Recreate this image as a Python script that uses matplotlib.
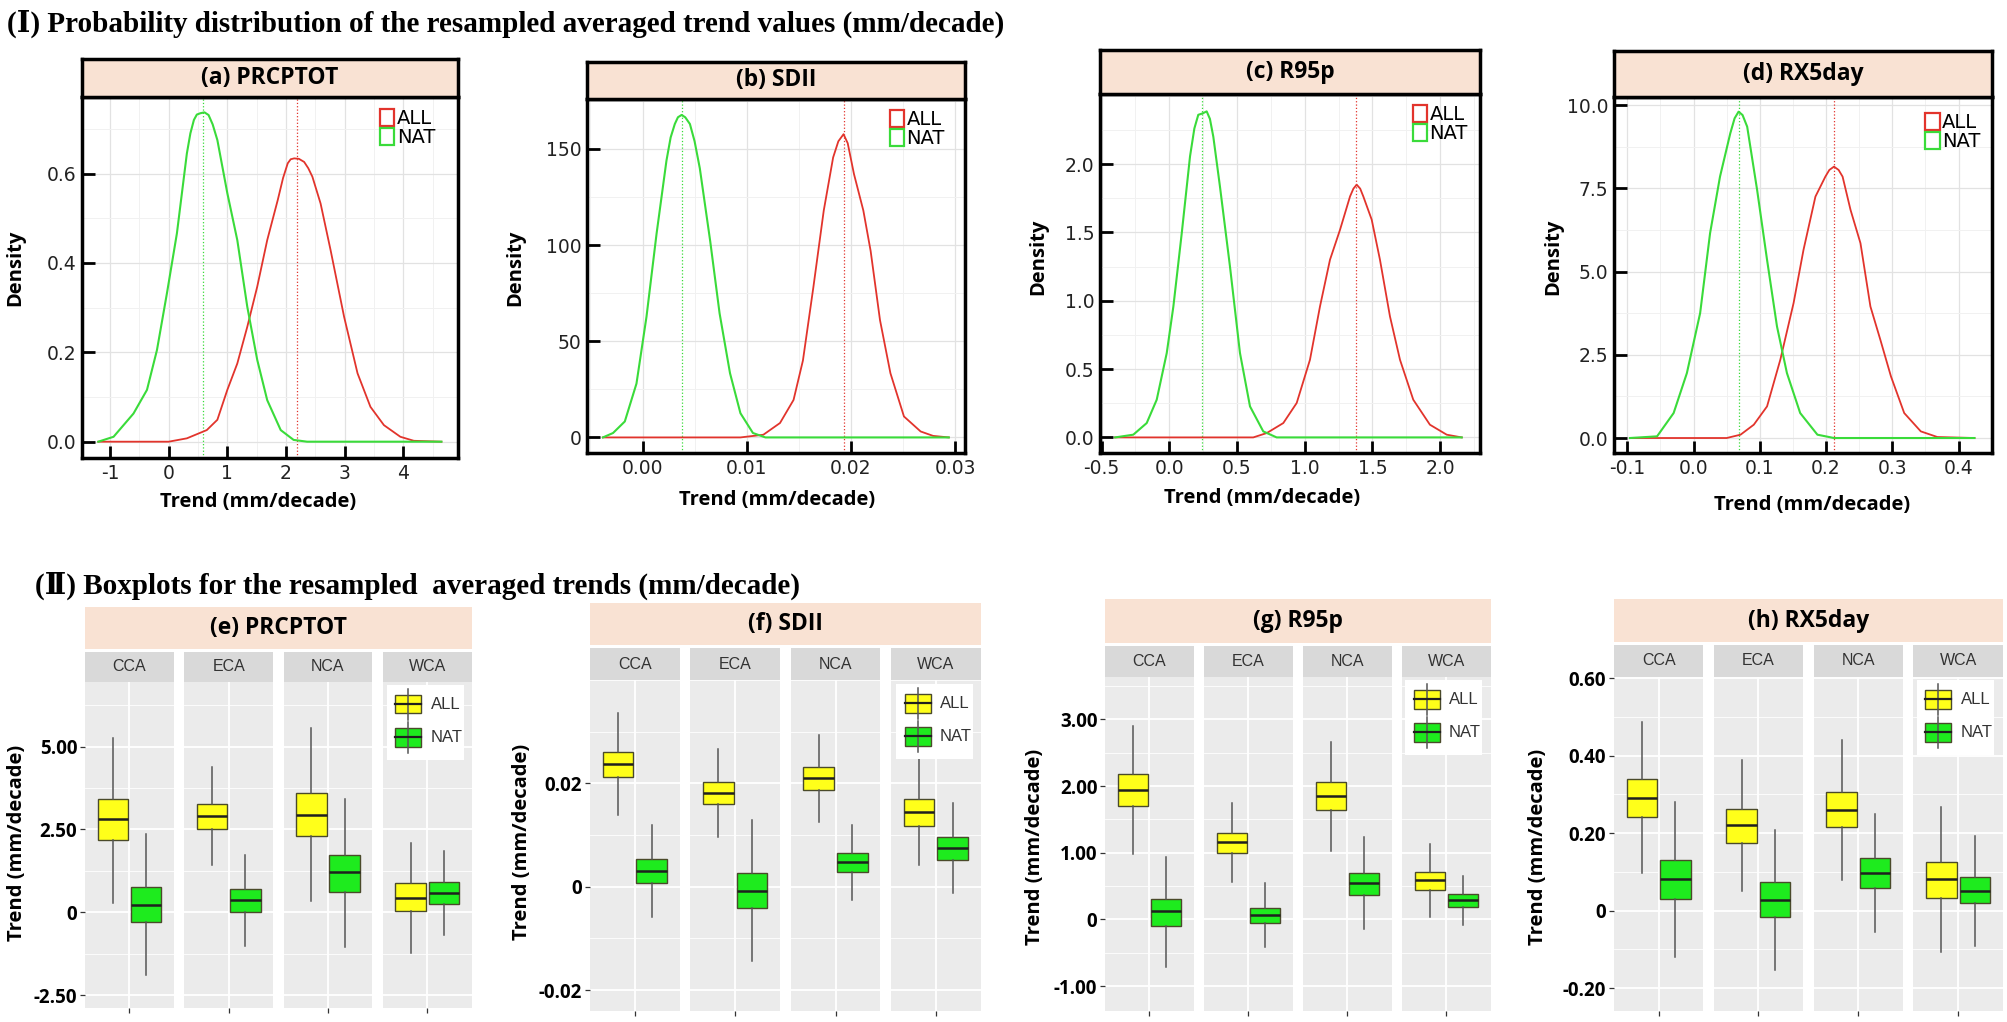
import numpy as np
import matplotlib.pyplot as plt
from matplotlib.patches import Patch, Rectangle
from matplotlib.ticker import AutoMinorLocator, MultipleLocator

# ---------------- data ----------------
# (I) density curves of resampled averaged trends
a_nat_x = [-1.2, -0.94, -0.60, -0.37, -0.20, -0.03, 0.14, 0.31, 0.37, 0.43, 0.48, 0.54, 0.61,
           0.68, 0.75, 0.83, 1.00, 1.17, 1.34, 1.51, 1.68, 1.91, 2.13, 2.36, 4.65]
a_nat_y = [0, 0.011, 0.063, 0.116, 0.205, 0.332, 0.466, 0.645, 0.69, 0.72, 0.732, 0.735, 0.737,
           0.731, 0.71, 0.675, 0.556, 0.451, 0.302, 0.183, 0.093, 0.026, 0.004, 0, 0]
a_all_x = [-1.2, 0.0, 0.31, 0.65, 0.83, 1.00, 1.17, 1.34, 1.51, 1.68, 1.86, 1.95, 2.03, 2.08,
           2.14, 2.22, 2.31, 2.38, 2.45, 2.59, 2.76, 2.99, 3.22, 3.44, 3.67, 3.95, 4.18, 4.65]
a_all_y = [0, 0, 0.0075, 0.026, 0.049, 0.116, 0.175, 0.257, 0.347, 0.451, 0.541, 0.59, 0.623,
           0.632, 0.634, 0.633, 0.626, 0.612, 0.593, 0.533, 0.429, 0.28, 0.153, 0.078, 0.037,
           0.011, 0.002, 0]
a_means = [2.19, 0.58]

b_nat_x = [-0.0038, -0.00283, -0.0017, -0.00058, 0.00038, 0.00135, 0.0023, 0.0027, 0.0031,
           0.0034, 0.00375, 0.0041, 0.00455, 0.0050, 0.0055, 0.0065, 0.0074, 0.0084, 0.0094,
           0.0106, 0.0118, 0.0294]
b_nat_y = [0, 2.3, 8.3, 28, 62.7, 106, 144, 156, 163, 166.5, 167.7, 166.5, 163, 154, 140, 102,
           64.5, 33.4, 12.6, 2.3, 0, 0]
b_all_x = [-0.0038, 0.0094, 0.0116, 0.0132, 0.0145, 0.0154, 0.0164, 0.0174, 0.0183, 0.0188,
           0.0193, 0.0197, 0.0203, 0.0212, 0.0219, 0.0228, 0.0238, 0.0251, 0.0267, 0.0279, 0.0294]
b_all_y = [0, 0, 1.4, 7.5, 19.5, 40, 78, 118, 145.6, 154, 157.7, 153, 137, 118, 97, 61, 33.4,
           10.9, 3.1, 0.8, 0]
b_means = [0.0193, 0.0038]

c_nat_x = [-0.40, -0.266, -0.167, -0.093, -0.019, 0.030, 0.092, 0.153, 0.185, 0.214, 0.245,
           0.276, 0.300, 0.325, 0.374, 0.448, 0.522, 0.596, 0.694, 0.793, 2.16]
c_nat_y = [0, 0.02, 0.105, 0.276, 0.617, 0.958, 1.495, 2.056, 2.26, 2.36, 2.37, 2.385, 2.33,
           2.20, 1.836, 1.251, 0.617, 0.227, 0.044, 0, 0]
c_all_x = [-0.40, 0.62, 0.72, 0.842, 0.941, 1.039, 1.113, 1.187, 1.261, 1.335, 1.36, 1.384,
           1.41, 1.433, 1.495, 1.556, 1.630, 1.704, 1.802, 1.925, 2.049, 2.16]
c_all_y = [0, 0, 0.032, 0.105, 0.252, 0.568, 0.958, 1.30, 1.519, 1.763, 1.82, 1.849, 1.82,
           1.763, 1.593, 1.30, 0.885, 0.568, 0.276, 0.093, 0.02, 0]
c_means = [1.379, 0.244]

d_nat_x = [-0.096, -0.055, -0.030, -0.010, 0.010, 0.025, 0.040, 0.0555, 0.062, 0.068, 0.074,
           0.081, 0.096, 0.111, 0.126, 0.141, 0.161, 0.187, 0.212, 0.424]
d_nat_y = [0, 0.05, 0.75, 1.95, 3.75, 6.15, 7.85, 9.15, 9.6, 9.80, 9.7, 9.35, 7.45, 5.35, 3.35,
           1.95, 0.75, 0.10, 0, 0]
d_all_x = [-0.096, 0.050, 0.071, 0.091, 0.111, 0.131, 0.151, 0.166, 0.184, 0.199, 0.205, 0.212,
           0.219, 0.225, 0.237, 0.252, 0.267, 0.282, 0.298, 0.318, 0.343, 0.368, 0.424]
d_all_y = [0, 0, 0.1, 0.40, 0.95, 2.35, 4.05, 5.65, 7.25, 7.85, 8.05, 8.15, 8.05, 7.85, 6.85,
           5.85, 3.95, 2.95, 1.85, 0.75, 0.20, 0.03, 0]
d_means = [0.212, 0.068]

# (II) boxplots: [whisker low, q1, median, q3, whisker high] per region
regions = ['CCA', 'ECA', 'NCA', 'WCA']
e_all = [[0.28, 2.17, 2.80, 3.43, 5.27], [1.44, 2.52, 2.90, 3.27, 4.39],
         [0.33, 2.30, 2.95, 3.61, 5.57], [-1.23, 0.03, 0.43, 0.87, 2.10]]
e_nat = [[-1.88, -0.30, 0.23, 0.77, 2.35], [-1.01, 0.01, 0.36, 0.71, 1.74],
         [-1.05, 0.62, 1.21, 1.74, 3.43], [-0.70, 0.26, 0.59, 0.91, 1.84]]
f_all = [[0.0139, 0.0213, 0.0237, 0.0261, 0.0336], [0.0097, 0.0160, 0.0182, 0.0203, 0.0266],
         [0.0126, 0.0187, 0.0210, 0.0231, 0.0294], [0.0042, 0.0117, 0.0144, 0.0169, 0.0265]]
f_nat = [[-0.0058, 0.0008, 0.0030, 0.0053, 0.0119], [-0.0143, -0.0042, -0.0008, 0.0027, 0.0129],
         [-0.0026, 0.0029, 0.0048, 0.0065, 0.0119], [-0.0013, 0.0052, 0.0074, 0.0097, 0.0161]]
g_all = [[0.98, 1.70, 1.94, 2.18, 2.90], [0.56, 1.00, 1.16, 1.30, 1.74],
         [1.03, 1.64, 1.85, 2.06, 2.66], [0.03, 0.44, 0.59, 0.71, 1.13]]
g_nat = [[-0.71, -0.10, 0.12, 0.31, 0.93], [-0.41, -0.05, 0.06, 0.17, 0.54],
         [-0.15, 0.36, 0.54, 0.70, 1.23], [-0.09, 0.19, 0.29, 0.38, 0.65]]
h_all = [[0.097, 0.243, 0.292, 0.340, 0.486], [0.050, 0.176, 0.220, 0.262, 0.389],
         [0.080, 0.215, 0.260, 0.306, 0.440], [-0.107, 0.034, 0.082, 0.127, 0.267]]
h_nat = [[-0.119, 0.030, 0.082, 0.131, 0.281], [-0.152, -0.017, 0.028, 0.073, 0.209],
         [-0.056, 0.058, 0.097, 0.136, 0.250], [-0.090, 0.020, 0.052, 0.088, 0.193]]

# ---------------- figure ----------------
W, H = 2007, 1022
fig = plt.figure(figsize=(W / 100, H / 100), dpi=100)

RED = '#E2342C'
GREEN = '#3ADB3A'
PEACH = '#F9E2D3'
YELLOW = '#FFFF1A'
BGREEN = '#1EEB1E'
LABEL = dict(family='Open Sans', weight='bold', size=14.5)
SERIF = ['Liberation Serif', 'DejaVu Serif', 'Noto Sans CJK SC']


def px_axes(x0, x1, y0, y1):
    # box given in pixels (origin top-left)
    return fig.add_axes([x0 / W, 1 - y1 / H, (x1 - x0) / W, (y1 - y0) / H])


fig.text(7 / W, 1 - 24 / H, '(Ⅰ) Probability distribution of the resampled averaged trend values (mm/decade)',
         family=SERIF, weight='bold', size=21, ha='left', va='center')
fig.text(35 / W, 1 - 586 / H, '(Ⅱ) Boxplots for the resampled  averaged trends (mm/decade)',
         family=SERIF, weight='bold', size=21, ha='left', va='center')

top = [
    dict(title='(a) PRCPTOT', xa=a_all_x, ya=a_all_y, xn=a_nat_x, yn=a_nat_y, means=a_means,
         box=(82, 458, 96.7, 458), strip=59, xlim=(-1.478, 4.933), ylim=(-0.0365, 0.772),
         xt=[-1, 0, 1, 2, 3, 4], xtl=['-1', '0', '1', '2', '3', '4'],
         yt=[0, 0.2, 0.4, 0.6], ytl=['0.0', '0.2', '0.4', '0.6'],
         leg=(0.939, 0.966), xlab=(258, 502), ylab=(15, 268)),
    dict(title='(b) SDII', xa=b_all_x, ya=b_all_y, xn=b_nat_x, yn=b_nat_y, means=b_means,
         box=(587, 965, 99, 453), strip=61.7, xlim=(-0.00533, 0.03096), ylim=(-8.1, 176),
         xt=[0, 0.01, 0.02, 0.03], xtl=['0.00', '0.01', '0.02', '0.03'],
         yt=[0, 50, 100, 150], ytl=['0', '50', '100', '150'],
         leg=(0.947, 0.969), xlab=(777, 500), ylab=(515, 268)),
    dict(title='(c) R95p', xa=c_all_x, ya=c_all_y, xn=c_nat_x, yn=c_nat_y, means=c_means,
         box=(1100, 1480, 94.3, 453), strip=50, xlim=(-0.512, 2.295), ylim=(-0.114, 2.51),
         xt=[-0.5, 0, 0.5, 1, 1.5, 2], xtl=['-0.5', '0.0', '0.5', '1.0', '1.5', '2.0'],
         yt=[0, 0.5, 1, 1.5, 2], ytl=['0.0', '0.5', '1.0', '1.5', '2.0'],
         leg=(0.968, 0.970), xlab=(1262, 498), ylab=(1038, 257)),
    dict(title='(d) RX5day', xa=d_all_x, ya=d_all_y, xn=d_nat_x, yn=d_nat_y, means=d_means,
         box=(1614, 1992, 96.7, 453), strip=50.7, xlim=(-0.120, 0.4505), ylim=(-0.45, 10.25),
         xt=[-0.1, 0, 0.1, 0.2, 0.3, 0.4], xtl=['-0.1', '0.0', '0.1', '0.2', '0.3', '0.4'],
         yt=[0, 2.5, 5, 7.5, 10], ytl=['0.0', '2.5', '5.0', '7.5', '10.0'],
         leg=(0.969, 0.955), xlab=(1812, 505), ylab=(1553, 257)),
]

for p in top:
    x0, x1, y0, y1 = p['box']
    ax = px_axes(x0, x1, y0, y1)
    ax.plot(p['xa'], p['ya'], color=RED, lw=1.3, zorder=3, solid_joinstyle='round')
    ax.plot(p['xn'], p['yn'], color=GREEN, lw=1.5, zorder=4, solid_joinstyle='round')
    ax.axvline(p['means'][0], color=RED, ls=':', lw=0.9, zorder=2)
    ax.axvline(p['means'][1], color=GREEN, ls=':', lw=0.9, zorder=2)
    ax.set_xlim(p['xlim'])
    ax.set_ylim(p['ylim'])
    ax.set_xticks(p['xt'], p['xtl'])
    ax.set_yticks(p['yt'], p['ytl'])
    ax.xaxis.set_minor_locator(AutoMinorLocator(2))
    ax.yaxis.set_minor_locator(AutoMinorLocator(2))
    ax.grid(which='major', color='#E2E2E2', lw=0.9, zorder=0)
    ax.grid(which='minor', color='#F1F1F1', lw=0.7, zorder=0)
    ax.set_axisbelow(True)
    ax.tick_params(which='major', direction='in', length=9, width=2, pad=4,
                   labelsize=13.5, labelcolor='#222222')
    ax.tick_params(which='minor', length=0)
    for s in ax.spines.values():
        s.set_linewidth(2.5)
    ax.set_xlabel('Trend (mm/decade)', va='center', **LABEL)
    ax.set_ylabel('Density', va='center', **LABEL)
    ax.xaxis.set_label_coords((p['xlab'][0] - x0) / (x1 - x0), (y1 - p['xlab'][1]) / (y1 - y0))
    ax.yaxis.set_label_coords((p['ylab'][0] - x0) / (x1 - x0), (y1 - p['ylab'][1]) / (y1 - y0))
    handles = [Patch(facecolor='white', edgecolor=RED, lw=1.6),
               Patch(facecolor='white', edgecolor=GREEN, lw=1.6)]
    ax.legend(handles, ['ALL', 'NAT'], loc='upper right', bbox_to_anchor=p['leg'],
              frameon=False, handlelength=0.75, handleheight=0.95, handletextpad=0.12,
              labelspacing=0.0, borderaxespad=0, borderpad=0, prop=dict(size=14))

    st = px_axes(x0, x1, p['strip'], y0)
    st.set_facecolor(PEACH)
    st.set_xticks([])
    st.set_yticks([])
    for s in st.spines.values():
        s.set_linewidth(2.5)
    st.text(0.5, 0.5, p['title'], transform=st.transAxes, ha='center', va='center',
            family='Open Sans', weight='bold', size=16.5)

bottom = [
    dict(title='(e) PRCPTOT', all=e_all, nat=e_nat, x=(85, 471.7), strip=(606.7, 649.3),
         fstrip=(651.7, 681.7), pbot=1008.3, ylim=(-2.90, 6.96), yt=[-2.5, 0, 2.5, 5],
         minor=1.25, ylab=(16.7, 842.5), leg=(386.7, 685)),
    dict(title='(f) SDII', all=f_all, nat=f_nat, x=(590, 980.7), strip=(603.3, 645),
         fstrip=(648.3, 680), pbot=1010.7, ylim=(-0.0240, 0.0400), yt=[-0.02, 0, 0.02],
         minor=0.01, ylab=(521.7, 842), leg=(896, 684)),
    dict(title='(g) R95p', all=g_all, nat=g_nat, x=(1105, 1490.5), strip=(599.3, 642.7),
         fstrip=(646, 676.7), pbot=1010.7, ylim=(-1.37, 3.64), yt=[-1, 0, 1, 2, 3],
         minor=0.5, ylab=(1035, 847), leg=(1405, 680)),
    dict(title='(h) RX5day', all=h_all, nat=h_nat, x=(1614, 2002.7), strip=(599.3, 641.7),
         fstrip=(645, 676.7), pbot=1010.7, ylim=(-0.258, 0.604), yt=[-0.2, 0, 0.2, 0.4, 0.6],
         minor=0.1, ylab=(1538, 847), leg=(1916.7, 680)),
]


def fmt(v):
    return '0' if abs(v) < 1e-12 else '%.2f' % v


def stats(q):
    return dict(whislo=q[0], q1=q[1], med=q[2], q3=q[3], whishi=q[4], fliers=[])


gap = 10.5
for p in bottom:
    x0, x1 = p['x']
    fw = (x1 - x0 - 3 * gap) / 4
    st = px_axes(x0, x1, p['strip'][0], p['strip'][1])
    st.set_facecolor(PEACH)
    st.set_xticks([])
    st.set_yticks([])
    for s in st.spines.values():
        s.set_visible(False)
    st.text(0.5, 0.5, p['title'], transform=st.transAxes, ha='center', va='center',
            family='Open Sans', weight='bold', size=16.5)
    for i, reg in enumerate(regions):
        fx0 = x0 + i * (fw + gap)
        fs = px_axes(fx0, fx0 + fw, p['fstrip'][0], p['fstrip'][1])
        fs.set_facecolor('#D9D9D9')
        fs.set_xticks([])
        fs.set_yticks([])
        for s in fs.spines.values():
            s.set_visible(False)
        fs.text(0.5, 0.5, reg, transform=fs.transAxes, ha='center', va='center',
                family='Liberation Sans', size=11.5, color='#333333')

        ax = px_axes(fx0, fx0 + fw, p['fstrip'][1], p['pbot'])
        ax.set_facecolor('#EBEBEB')
        for s in ax.spines.values():
            s.set_visible(False)
        for q, pos, col in ((p['all'][i], 0.775, YELLOW), (p['nat'][i], 1.225, BGREEN)):
            ax.bxp([stats(q)], positions=[pos], widths=0.41, patch_artist=True,
                   showfliers=False, showcaps=False,
                   boxprops=dict(facecolor=col, edgecolor='#4A4A2A', lw=1.0),
                   medianprops=dict(color='#1F1F1F', lw=1.8),
                   whiskerprops=dict(color='#555555', lw=1.1))
        ax.set_xlim(0.4, 1.6)
        ax.set_ylim(p['ylim'])
        ax.set_xticks([1], [''])
        ax.set_yticks(p['yt'], [fmt(v) for v in p['yt']])
        ax.yaxis.set_minor_locator(MultipleLocator(p['minor']))
        ax.grid(which='major', color='white', lw=1.3)
        ax.grid(which='minor', axis='y', color='white', lw=0.6)
        ax.set_axisbelow(True)
        ax.tick_params(which='major', length=3.5, width=0.9, color='#333333', pad=2)
        ax.tick_params(which='minor', length=0)
        if i == 0:
            for lab in ax.get_yticklabels():
                lab.set_fontproperties(dict(family='Open Sans', weight='bold', size=13.5))
            ax.set_ylabel('Trend (mm/decade)', va='center', **LABEL)
            ax.yaxis.set_label_coords((p['ylab'][0] - fx0) / fw,
                                      (p['pbot'] - p['ylab'][1]) / (p['pbot'] - p['fstrip'][1]))
        else:
            ax.tick_params(axis='y', length=0, labelleft=False)

    # legend drawn inside the last facet
    lx, ly = p['leg']
    lg = px_axes(lx, lx + 77, ly, ly + 75)
    lg.set_facecolor('white')
    lg.set_xlim(0, 77)
    lg.set_ylim(75, 0)
    lg.set_xticks([])
    lg.set_yticks([])
    for s in lg.spines.values():
        s.set_visible(False)
    for ky, col, name in ((10, YELLOW, 'ALL'), (43, BGREEN, 'NAT')):
        lg.plot([21.5, 21.5], [ky - 6, ky + 25], color='#555555', lw=1.1)
        lg.add_patch(Rectangle((8.5, ky), 26, 18.5, facecolor=col, edgecolor='#4A4A2A', lw=1.0))
        lg.plot([8.5, 34.5], [ky + 9.2, ky + 9.2], color='#1F1F1F', lw=1.6)
        lg.text(44, ky + 9.5, name, ha='left', va='center', family='Liberation Sans',
                size=12, color='#333333')

fig.savefig('out.png', dpi=100)
